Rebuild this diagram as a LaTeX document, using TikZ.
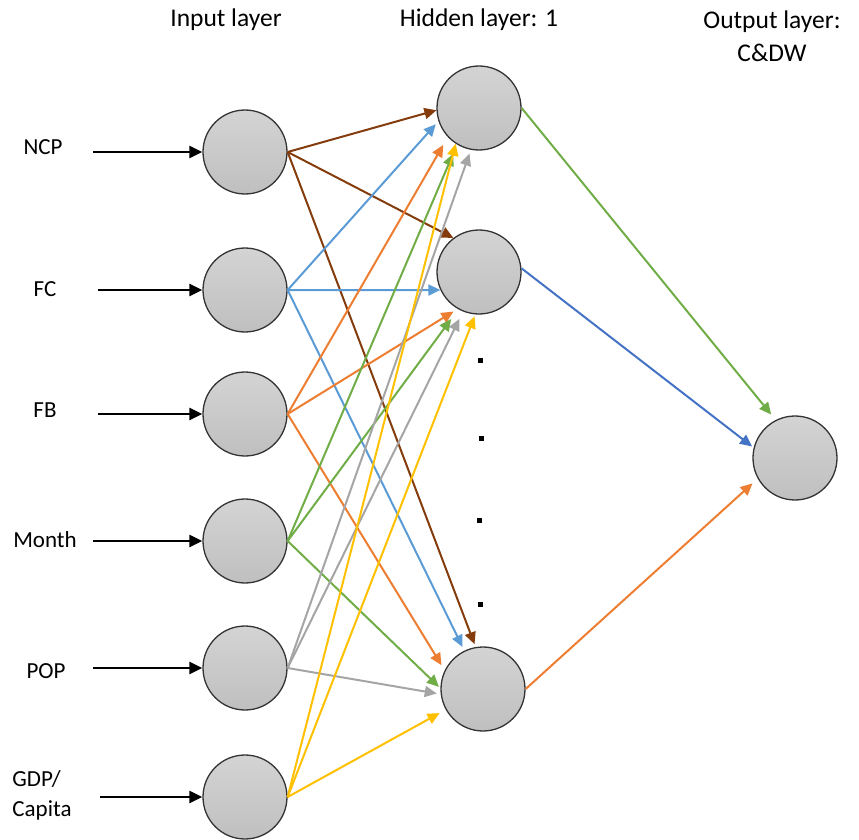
\documentclass[tikz,border=0pt]{standalone}
\usepackage{fontspec}
\setmainfont{Carlito}
\usetikzlibrary{arrows.meta}
\definecolor{cbrown}{HTML}{843C0C}
\definecolor{cblue}{HTML}{5B9BD5}
\definecolor{corange}{HTML}{ED7D31}
\definecolor{cgreen}{HTML}{70AD47}
\definecolor{cgray}{HTML}{A5A5A5}
\definecolor{cyellow}{HTML}{FFC000}
\definecolor{cdblue}{HTML}{4472C4}
\begin{document}
\begin{tikzpicture}[x=1pt,y=-1pt,
    every node/.style={font=\fontsize{23}{30}\selectfont},
    title/.style={font=\fontsize{25.5}{33}\selectfont,align=center},
    neuron/.style={circle,draw=black!80,line width=1.3pt,minimum size=84pt,inner sep=0pt,top color=black!17,bottom color=black!25},
    wire/.style={line width=2pt,-{Triangle[length=12pt,width=11pt]}},
    feed/.style={line width=2.4pt,-{Triangle[length=13pt,width=12pt]}},
    dot/.style={fill=black,minimum size=5pt,inner sep=0pt}]
        \useasboundingbox (0,0) rectangle (859,840);
        % titles
        \node[title] (tin) at (226,20) {Input layer};
        \node[title] (thid) at (479,20) {Hidden layer: 1};
        \node[title] (tout) at (772,36) {Output layer:\\C\&DW};
        % input layer
        \node[neuron] (ncp) at (245,152) {};
        \node[neuron] (fc) at (245,290) {};
        \node[neuron] (fb) at (245,414) {};
        \node[neuron] (month) at (245,541) {};
        \node[neuron] (pop) at (245,668) {};
        \node[neuron] (gdp) at (245,797) {};
        % hidden and output layer
        \node[neuron] (h1) at (479,108) {};
        \node[neuron] (h2) at (479,272) {};
        \node[neuron] (h3) at (483,689) {};
        \node[neuron] (out) at (795,458) {};
        \node[dot] (d1) at (480,360) {};
        \node[dot] (d2) at (481,438) {};
        \node[dot] (d3) at (479,520) {};
        \node[dot] (d4) at (480,604) {};
        % input labels
        \node (lncp) at (43,147) {NCP};
        \node (lfc) at (45,289) {FC};
        \node (lfb) at (45,410) {FB};
        \node (lmonth) at (45,540) {Month};
        \node (lpop) at (46,671) {POP};
        \node[align=left] (lgdp) at (42,795) {GDP/\\Capita};
        \coordinate (sncp) at (93,152);
        \coordinate (sfc) at (98,290);
        \coordinate (sfb) at (98,414);
        \coordinate (smonth) at (93,541);
        \coordinate (spop) at (93,668);
        \coordinate (sgdp) at (100,797);
        \draw[feed] (sncp) -- (ncp);
        \draw[feed] (sfc) -- (fc);
        \draw[feed] (sfb) -- (fb);
        \draw[feed] (smonth) -- (month);
        \draw[feed] (spop) -- (pop);
        \draw[feed] (sgdp) -- (gdp);
        % input to hidden
        \draw[wire,cbrown] (ncp.east) -- (h1.183);
        \draw[wire,cbrown] (ncp.east) -- (h2.127);
        \draw[wire,cbrown,shorten >=3pt] (ncp.east) -- (h3.100);
        \draw[wire,cblue,shorten >=4pt] (fc.east) -- (h1.198);
        \draw[wire,cblue] (fc.east) -- (h2.205);
        \draw[wire,cblue,shorten >=4pt] (fc.east) -- (h3.116);
        \draw[wire,corange,shorten >=9pt] (fb.east) -- (h1.223);
        \draw[wire,corange,shorten >=5pt] (fb.east) -- (h2.240);
        \draw[wire,corange,shorten >=6pt] (fb.east) -- (h3.154);
        \draw[wire,cgreen,shorten >=10pt] (month.east) -- (h1.239);
        \draw[wire,cgreen,shorten >=12pt] (month.east) -- (h2.241);
        \draw[wire,cgreen,shorten >=2pt] (month.east) -- (h3.179);
        \draw[wire,cgray,shorten >=4pt] (pop.east) -- (h1.259);
        \draw[wire,cgray,shorten >=8pt] (pop.east) -- (h2.248);
        \draw[wire,cgray,shorten >=4pt] (pop.east) -- (h3.187);
        \draw[wire,cyellow] (gdp.east) -- (h1.237);
        \draw[wire,cyellow,shorten >=2pt] (gdp.east) -- (h2.265);
        \draw[wire,cyellow,shorten >=7pt] (gdp.east) -- (h3.209);
        % hidden to output
        \draw[wire,cgreen,shorten >=7pt] (h1.east) -- (out.117);
        \draw[wire,cdblue,shorten >=2pt] (h2.5) -- (out.166);
        \draw[wire,corange,shorten >=7pt] (h3.east) -- (out.209);
    \end{tikzpicture}
\end{document}
